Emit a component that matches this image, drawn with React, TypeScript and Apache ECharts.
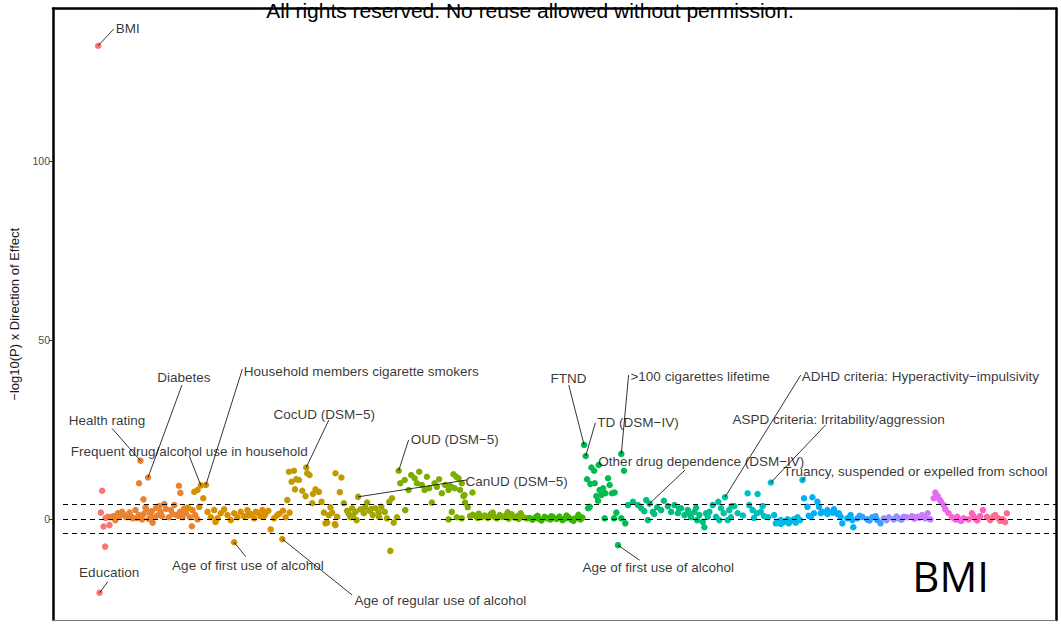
import React, { useEffect, useRef } from "react";
import * as echarts from "echarts";

// ---------- data (x = phenotype position along the axis, y = -log10(P) x direction) ----------
const groupColors = [
  "#F8766D", "#EA8331", "#D89000", "#C09B00", "#A3A500", "#7CAE00", "#39B600", "#00BB4E", "#00BF7D", "#00C1A3",
  "#00BFC4", "#00BAE0", "#00B0F6", "#35A2FF", "#9590FF", "#C77CFF", "#E76BF3", "#FA62DB", "#FF62BC", "#FF6C91",
];

const g01 = [[45.3, 132.2], [46.7, -20.6], [49.3, 7.9], [48, 1.8], [52.7, 0.3], [50.7, -2.1], [56.7, -1.7], [52.3, -7.7], [55, 0.6]];
const g02 = [
  [87.7, 16.3], [95.3, 11.6], [86.3, 10.0], [126.3, 9.3], [127.7, 7.3], [90.7, 5.5], [93.3, 2.8],
  [60.7, 0.8], [65, 1.6], [69.3, 2.0], [73.3, 0.5], [76.7, 1.8], [80, 0.2], [82.7, 2.5], [86, 1.1], [89.3, -0.1],
  [92.7, 3.3], [97.3, 1.6], [100, -1.0], [103.3, 3.0], [106.7, 3.6], [109.3, 0.8], [111.7, 4.2], [116, 0.5],
  [118.3, 2.5], [121.7, 3.9], [124, 1.1], [127.3, 2.0], [130, 0.5], [133.3, 1.6], [137.3, 0.5], [140, 2.5],
  [142.7, 1.1], [145, -0.1], [139.3, -2.0], [58, 0.5], [62.5, -0.3], [67, 0.9], [71, 1.2], [78.5, 0.7], [84, 0.3],
  [91, 1.4], [99, 2.2], [104.5, 1.0], [113.5, 2.8], [120, 1.4], [126, 0.9], [131.5, 2.9], [135, 3.2], [100.5, 0.4],
  [108, 2.0], [96, 0.0],
];
const g03 = [
  [141.7, 7.6], [145, 8.1], [148.3, 9.4], [153.3, 9.5], [150.7, 5.8], [146.7, 3.4], [136, 3.0],
  [155, 2.0], [158.3, 0.5], [161.7, 2.5], [165, 0.2], [168.3, 1.6], [171.7, 2.7], [175, 1.1], [178.3, -0.3],
  [181.7, 1.6], [185, 0.5], [188.3, 2.0], [191.7, 0.8], [195, 2.5], [198.3, 1.4], [201.7, 0.2], [205, 1.8],
  [208.3, 0.8], [203.3, 2.0], [210, 2.5], [213.3, 1.6], [216, 2.3], [221.7, 0.2], [225, 1.1], [230.7, 2.3],
  [233.3, 0.5], [237.3, 1.8], [218.3, -2.9], [181.7, -6.5], [230, -5.6], [163, -0.8], [196, 1.0], [227, 1.5], [212, 0.9],
];
const g04 = [
  [235, 5.3], [236.7, 13.2], [241.7, 13.5], [239.3, 10.4], [244, 11.1], [246.7, 10.9], [242.7, 8.3], [250, 7.9],
  [254, 14.4], [255, 12.8], [257.3, 12.3], [253.3, 6.4], [260.7, 7.0], [263.3, 8.3], [266.7, 7.6], [269.3, 4.8],
  [260, 4.4], [271.7, 1.8], [275, -1.0], [278.3, 3.3], [282.7, -1.4], [283.3, 12.8], [289.3, 11.6], [287.7, 7.5],
  [285, 0.6], [280, 1.8], [273.3, -1.2], [283.3, -1.7], [276.7, 1.1],
];
const g05 = [
  [291.7, 4.4], [295, 2.3], [298.3, 0.5], [300, 3.0], [303.3, 2.0], [306, 6.2], [308.3, 2.7], [311.7, 1.6],
  [315, 4.6], [317.3, 2.3], [320.7, 1.1], [323.3, 3.0], [326.7, 1.8], [329.3, 3.4], [332.7, 2.0], [335, 0.2],
  [337.3, 4.8], [340, 5.8], [341.7, -1.0], [345, 0.5], [338.3, -8.9], [300.7, 0.8], [313, 3.3], [319, 2.8],
  [327, 0.6], [296.5, 1.5], [304.5, -0.3],
];
const g06 = [
  [346.7, 13.5], [348.3, 10.0], [352.7, 10.9], [353.3, 2.5], [356.7, 8.1], [359.3, 12.3], [362.7, 11.4], [365, 10.0],
  [367.3, 13.2], [370, 9.5], [372.7, 8.1], [375, 11.8], [377.3, 8.6], [380, 4.6], [382.7, 10.0], [385, 9.0],
  [387.3, 11.1], [390, 7.2], [393.3, 9.5], [396.7, 8.1], [399.3, 9.0], [396.7, -0.1], [403, 8.6], [406.7, 11.4],
  [410, 10.0], [412.7, 6.7], [408.3, 8.1], [401.7, 12.5], [404.5, 11.8], [398.3, 9.2], [420.7, 7.4], [411.7, 6.4],
  [413.3, 4.6], [416, 3.3], [400, 2.0], [405, 0.5], [410, 0.2], [418.3, 0.8],
  [421, 1.2], [424, 0.8], [427, 1.5], [430, 0.5], [433, 1.0], [436, 0.3], [439, 1.4], [442, 0.7], [445, 0.2],
  [448, 1.1], [451, 0.6], [454, 0.9], [457, 0.1], [460, 1.3], [463, 0.4], [466, 0.8], [469, 1.6], [472, 0.5],
  [475, 0.2], [426, 0.3], [441, 1.8], [456, 1.9], [467, 0.0],
];
const g07 = [
  [478, 0.3], [481, -0.2], [484, 0.5], [487, 0.1], [490, -0.4], [493, 0.6], [496, 0.2], [499, -0.1], [502, 0.4],
  [505, 0.0], [508, 0.7], [511, -0.3], [514, 0.2], [517, 0.5], [520, -0.2], [523, 0.1], [526, 0.3], [529, -0.1],
  [527, 1.2], [531, 0.4], [486, 0.9], [500, 0.8], [515, 1.0], [522, -0.5],
];
const g08 = [
  [532.7, 20.7], [534.3, 17.6], [570, 18.2], [572.7, 13.5], [540, 14.4], [542.7, 13.5], [535.7, 11.1], [539, 9.8],
  [543.3, 10.0], [548.3, 8.1], [551.7, 8.6], [554, 7.2], [556.7, 11.4], [558.3, 9.5], [560.7, 7.2], [563.3, 7.4],
  [545, 6.4], [546.7, 5.1], [550, 6.7], [536.7, 3.0], [553.3, 0.2], [562.7, 0.2], [565, 1.8], [570, 0.2],
  [574, -1.2], [566.7, -7.3], [547.3, 15.1], [538.3, 3.4],
];
const g09 = [
  [576.7, 3.9], [581.7, 4.8], [586.7, 3.9], [590, 3.0], [595, 5.3], [598.3, 4.3], [601.7, 2.0], [606, 3.3],
  [610, 2.5], [612.7, 5.1], [616.7, 3.6], [620, 2.0], [623.3, 3.9], [626.7, 1.6], [630, 3.0], [633.3, 1.1],
  [636.7, 2.5], [640, 0.5], [643.3, 2.0], [646, -0.3], [648.3, 1.1], [651.7, -0.8], [653.3, -2.3], [655, 1.6],
  [596.7, -0.3], [603, 1.4], [593, 2.2], [628, 2.9], [638, 1.5], [645, 3.1],
];
const g10 = [
  [658.3, 2.0], [661.7, 3.9], [665, 0.6], [667.3, 4.8], [670, 3.0], [674, 6.1], [672.7, 1.6], [678.3, 2.5],
  [680, 0.5], [683.3, 3.6], [686.7, 1.6], [676.7, -0.3], [668.3, -0.3], [680.7, 3.6], [656.7, 0.6],
];
const g11 = [
  [696.7, 7.2], [706.7, 7.0], [698.3, 3.9], [701.7, 2.5], [706, 1.6], [710, 2.0], [713.3, 0.8], [717.3, 0.5],
  [711.7, 3.6], [720, 10.2], [692, 1.0], [703, 0.3],
];
const g12 = [
  [723.3, 1.1], [726.7, -0.8], [730, -0.3], [733.3, -0.8], [736.7, -0.1], [740, -0.5], [743.3, -0.1], [746.7, 0.5],
  [749.3, -0.3], [751.7, 10.9], [725, -1.2], [730, -1.4], [738, -1.2], [745, -1.0],
];
const g13 = [
  [753.3, 5.8], [761.7, 6.1], [766.7, 4.8], [756.7, 3.4], [763.3, 1.6], [768.3, 3.4], [760, 0.6], [771.7, 2.0],
  [776.7, 1.4], [781.7, 1.8], [786.7, 1.4], [790, 0.6], [791.7, -1.2], [796.7, 0.2], [801.7, -0.3], [802.7, -2.3],
  [770, 1.6], [776.7, 2.5], [783.3, 2.7], [788.3, 1.6], [800, 1.1], [758, 0.9],
];
const g14 = [[806.7, 0.2], [811.7, 0.6], [816.7, -0.1], [821.7, 0.5], [826.7, -0.3], [830, -1.2], [825, 0.8], [809, 0.9], [819, -0.4]];
const g15 = [[833.3, 0.2], [838.3, 0.5], [843.3, -0.1], [848.3, 0.2], [853.3, 0.6], [836, -0.3], [846, 0.7], [851, -0.2]];
const g16 = [[856.7, 0.5], [861.7, 0.8], [866.7, 0.6], [871.7, 1.1], [875, 0.2], [877.3, 1.6], [880, -0.1], [864, 0.1], [869, 0.4]];
const g17 = [[885, 7.4], [887.3, 6.4], [883.3, 5.8], [890.7, 4.8], [893.3, 3.9], [895, 2.7], [889, 5.5]];
const g18 = [[898.3, 1.6], [901.7, 0.5], [905, -0.1], [909.3, -0.3], [913.3, 0.2], [907, 0.6], [911, -0.5]];
const g19 = [[918.3, -0.1], [921.7, 1.6], [925, 0.2], [930, 0.8], [932.7, 2.5], [927, -0.4], [923, 0.9]];
const g20 = [[936.7, 0.6], [940, -0.3], [943.3, 0.8], [948.3, 0.2], [952.7, -0.1], [956.7, 1.6], [955, -0.8], [945, 1.1], [950, -0.5]];

const groups = [g01, g02, g03, g04, g05, g06, g07, g08, g09, g10, g11, g12, g13, g14, g15, g16, g17, g18, g19, g20];

const thresholds = [4.1, 0, -4.1];
const yTicks = [0, 50, 100];

// annotation texts, their labelled point, label centre and leader-line end (data units)
const annText = [
  "BMI", "Health rating", "Diabetes", "Household members cigarette smokers", "Frequent drug/alcohol use in household",
  "Education", "Age of first use of alcohol", "Age of regular use of alcohol", "CocUD (DSM−5)", "OUD (DSM−5)",
  "CanUD (DSM−5)", "FTND", "TD (DSM−IV)", ">100 cigarettes lifetime", "Other drug dependence (DSM−IV)",
  "ADHD criteria: Hyperactivity−impulsivity", "ASPD criteria: Irritability/aggression",
  "Truancy, suspended or expelled from school", "Age of first use of alcohol",
];
const annPoint = [
  [45.3, 132.2], [87.7, 16.3], [95.3, 11.6], [153.3, 9.5], [148.3, 9.4], [46.7, -20.6], [181.7, -6.5], [230, -5.6],
  [254, 14.4], [346.7, 13.5], [306, 6.2], [532.7, 20.7], [534.3, 17.6], [570, 18.2], [598.3, 4.3], [674, 6.1],
  [720, 10.2], [751.7, 10.9], [566.7, -7.3],
];
const annLabel = [
  [75, 137.1], [54.2, 27.4], [131.2, 39.4], [309.2, 41.3], [136.7, 19.0], [56.3, -14.9], [195.5, -13.0], [388.5, -22.8],
  [272, 29.3], [403, 22.2], [465, 10.6], [517, 39.3], [586.7, 27.1], [649, 39.8], [650.3, 16.2], [870, 39.8],
  [788, 27.7], [865, 13.4], [607, -13.5],
];
const annLineEnd = [
  [61, 136.9], [59.3, 25.3], [129.3, 37.4], [190, 41.9], [136.7, 17.6], [55, -17.5], [193.3, -10.5], [300, -21.2],
  [276.7, 27.7], [356.7, 22.1], [415, 10.9], [517.3, 37.4], [544, 26.9], [577.3, 40.2], [634, 13.7], [750, 40.2],
  [775, 26.3], [755, 11.8], [588.3, -11.5],
];

const yTitle = "−log10(P) x Direction of Effect";
const watermark = "All rights reserved. No reuse allowed without permission.";
const cornerTitle = "BMI";

export default function App() {
  const ref = useRef<HTMLDivElement>(null);

  useEffect(() => {
    if (!ref.current) return;
    const chart = echarts.init(ref.current, null, { renderer: "svg" });
    const font = "Liberation Sans, Arial, Helvetica, sans-serif";

    const scatterSeries = groups.map((d, i) => ({
      type: "scatter",
      data: d,
      symbolSize: 6.5,
      itemStyle: { color: groupColors[i], opacity: 1 },
      z: 4,
      silent: true,
      ...(i === 0
        ? {
            markLine: {
              silent: true,
              symbol: ["none", "none"],
              label: { show: false },
              lineStyle: { type: [5, 4], color: "#000", width: 1.1 },
              data: thresholds.map((v) => [{ coord: [10, v] }, { coord: [1006, v] }]),
            },
          }
        : {}),
    }));

    chart.setOption({
      animation: false,
      grid: { left: 50, right: 5, top: 8.5, bottom: 4, show: false },
      xAxis: [
        {
          type: "value", min: 0, max: 1006, position: "bottom",
          axisLine: { show: true, onZero: false, lineStyle: { color: "#777", width: 1 } },
          axisTick: { show: false }, axisLabel: { show: false }, splitLine: { show: false },
        },
        {
          type: "value", min: 0, max: 1006, position: "top",
          axisLine: { show: true, onZero: false, lineStyle: { color: "#000", width: 2.5 } },
          axisTick: { show: false }, axisLabel: { show: false }, splitLine: { show: false },
        },
      ],
      yAxis: [
        {
          type: "value", min: -28.2, max: 142.6, position: "left",
          name: yTitle, nameLocation: "middle", nameGap: 32,
          nameTextStyle: { fontSize: 13, color: "#1a1a1a", fontFamily: font },
          axisLine: { show: true, onZero: false, lineStyle: { color: "#000", width: 2.5 } },
          axisTick: { show: true, length: 4, customValues: yTicks, lineStyle: { color: "#333", width: 1 } },
          axisLabel: { show: true, customValues: yTicks, fontSize: 10.5, color: "#4d4d4d", margin: 3, fontFamily: font },
          splitLine: { show: false },
        },
        {
          type: "value", min: -28.2, max: 142.6, position: "right",
          axisLine: { show: true, onZero: false, lineStyle: { color: "#000", width: 2.5 } },
          axisTick: { show: false }, axisLabel: { show: false }, splitLine: { show: false },
        },
      ],
      series: [
        ...scatterSeries,
        {
          type: "lines",
          coordinateSystem: "cartesian2d",
          silent: true,
          z: 5,
          lineStyle: { color: "#000", width: 0.8, opacity: 1, curveness: 0 },
          data: annPoint.map((p, i) => ({ coords: [p, annLineEnd[i]] })),
        },
        {
          type: "scatter",
          silent: true,
          z: 6,
          symbolSize: 1,
          itemStyle: { color: "rgba(0,0,0,0)" },
          label: {
            show: true, position: "inside", formatter: "{b}",
            color: "#000", fontSize: 13.5, fontFamily: font,
          },
          data: annLabel.map((p, i) => ({ name: annText[i], value: p })),
        },
      ],
      graphic: [
        {
          type: "text", x: 530, y: 10.5, z: 100,
          style: {
            text: watermark, fontSize: 21, fill: "#000", fontFamily: font,
            align: "center", verticalAlign: "middle",
          },
        },
        {
          type: "text", right: 72, bottom: 28, z: 100,
          style: { text: cornerTitle, fontSize: 42, fill: "#000", fontFamily: "Open Sans, sans-serif" },
        },
      ],
    });

    return () => chart.dispose();
  }, []);

  return (
    <div
      ref={ref}
      style={{ position: "fixed", left: 0, top: 0, width: 1061, height: 624, background: "#fff" }}
    />
  );
}
